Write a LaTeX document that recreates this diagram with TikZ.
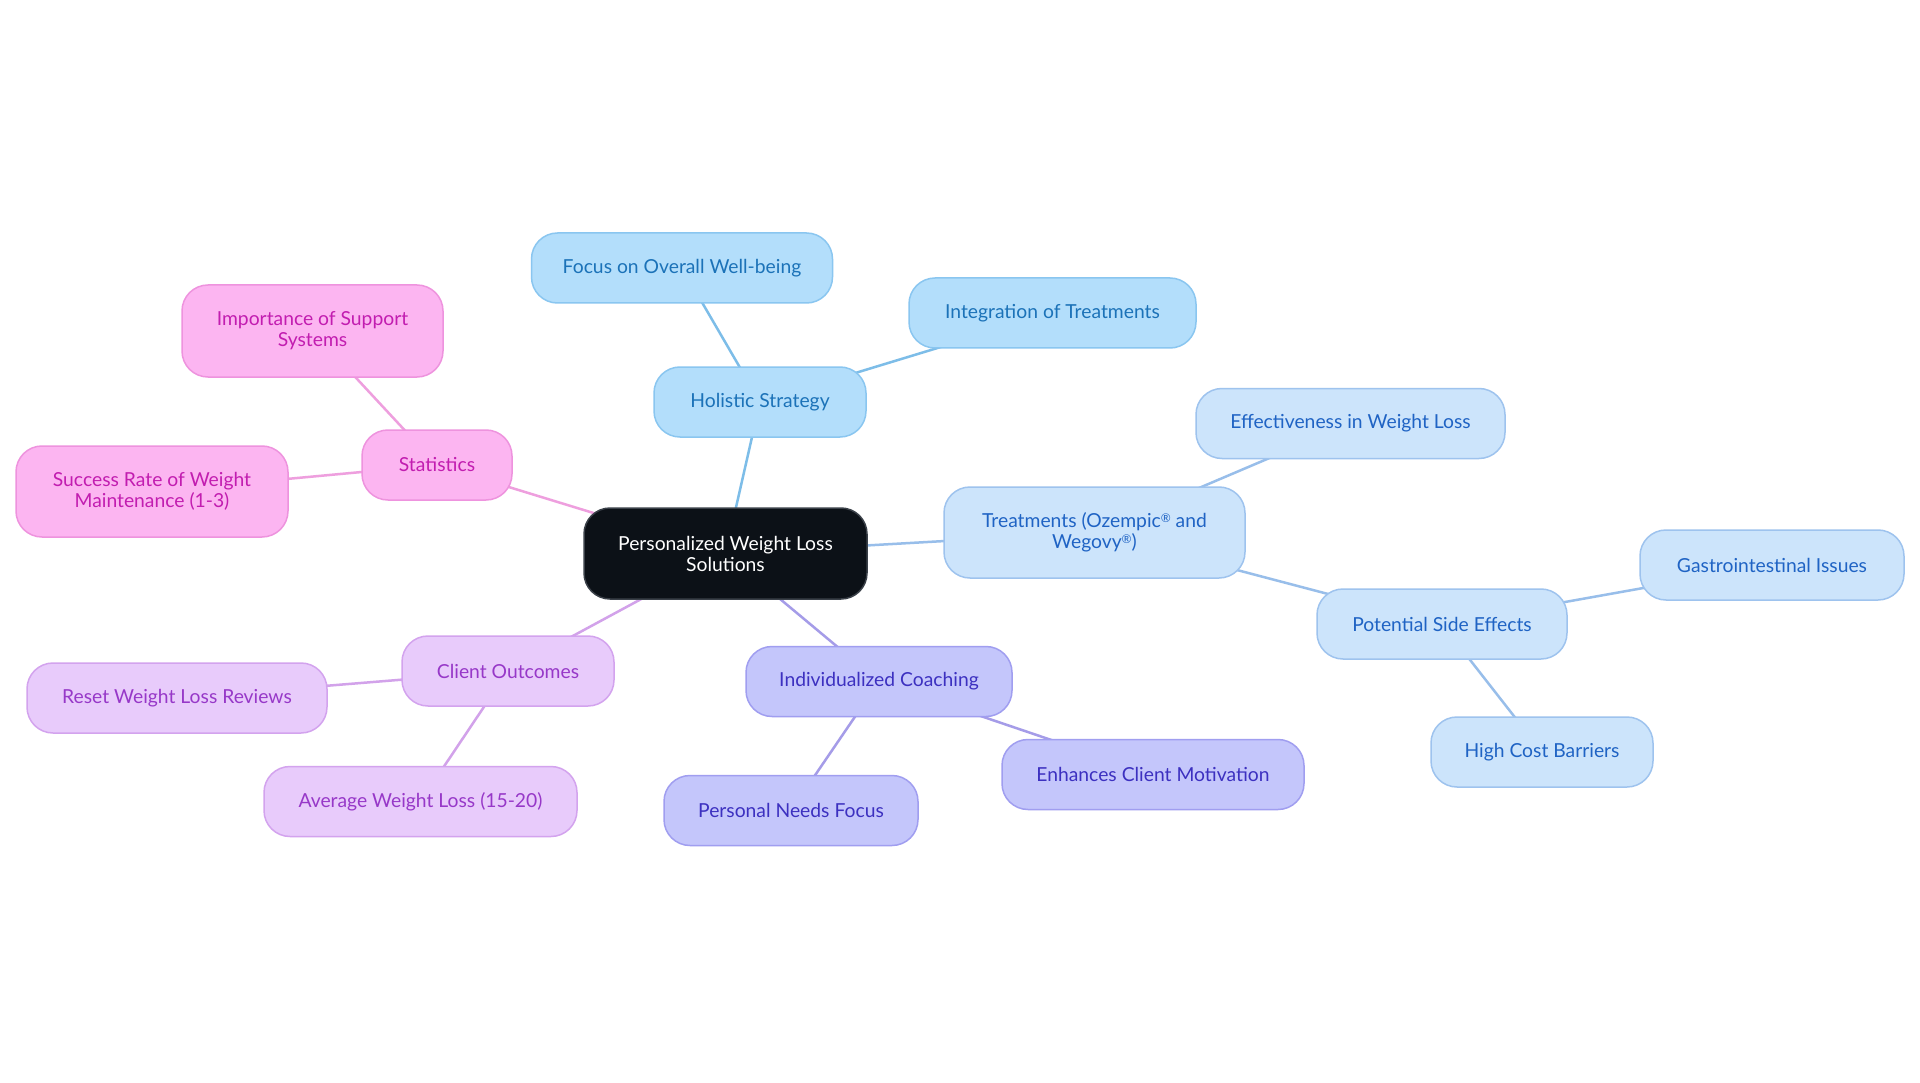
\documentclass[tikz,border=0pt]{standalone}
\usepackage{fontspec}
\setmainfont{Lato}
\usetikzlibrary{backgrounds}
\definecolor{cFill}{HTML}{0C1117}
\definecolor{cBord}{HTML}{3A4048}
\definecolor{bAfill}{HTML}{B3DEFB}
\definecolor{bAbord}{HTML}{8AC6F0}
\definecolor{bAtext}{HTML}{1B72B8}
\definecolor{bAline}{HTML}{7DBDE8}
\definecolor{bBfill}{HTML}{CCE4FB}
\definecolor{bBbord}{HTML}{9EC3EE}
\definecolor{bBtext}{HTML}{1F63C4}
\definecolor{bBline}{HTML}{98BEEA}
\definecolor{inFill}{HTML}{C4C6FB}
\definecolor{inBord}{HTML}{A09EF0}
\definecolor{inText}{HTML}{3C30C0}
\definecolor{inLine}{HTML}{A59CE8}
\definecolor{puFill}{HTML}{E8CBFB}
\definecolor{puBord}{HTML}{D3A3EE}
\definecolor{puText}{HTML}{9738C8}
\definecolor{puLine}{HTML}{D2A2EA}
\definecolor{pkFill}{HTML}{FCB5F1}
\definecolor{pkBord}{HTML}{EE93DE}
\definecolor{pkText}{HTML}{C21DB0}
\definecolor{pkLine}{HTML}{EE9FDE}
\newcommand{\regmark}{{\fontsize{12}{12}\selectfont\raisebox{5pt}{®}}}
\tikzset{
  mmbox/.style={rectangle, rounded corners=26pt, line width=1.5pt, align=center,
    inner sep=0pt, font=\fontsize{19.3}{21}\selectfont, minimum height=70pt},
  rootbox/.style={mmbox, fill=cFill, draw=cBord, text=white},
  blueA/.style={mmbox, fill=bAfill, draw=bAbord, text=bAtext},
  blueB/.style={mmbox, fill=bBfill, draw=bBbord, text=bBtext},
  indig/.style={mmbox, fill=inFill, draw=inBord, text=inText},
  purp/.style={mmbox, fill=puFill, draw=puBord, text=puText},
  pinkb/.style={mmbox, fill=pkFill, draw=pkBord, text=pkText},
  link/.style={line width=2.5pt},
}
\begin{document}
\begin{tikzpicture}[x=1pt,y=-1pt]
\useasboundingbox (0,0) rectangle (1920,1083);
% root
\node[rootbox, minimum width=283pt, minimum height=91pt] (root) at (725.5,553.5) {Personalized Weight Loss\\Solutions};
% holistic branch
\node[blueA, minimum width=212pt] (hol) at (760,402) {Holistic Strategy};
\node[blueA, minimum width=301pt] (foc) at (682,268) {Focus on Overall Well-being};
\node[blueA, minimum width=287pt] (intg) at (1052.5,313) {Integration of Treatments};
% treatments branch
\node[blueB, minimum width=301pt, minimum height=91pt] (trt) at (1094.5,532.5) {Treatments (Ozempic\regmark{} and\\Wegovy\regmark)};
\node[blueB, minimum width=309pt] (eff) at (1350.5,423.5) {Effectiveness in Weight Loss};
\node[blueB, minimum width=250pt] (pse) at (1442,624) {Potential Side Effects};
\node[blueB, minimum width=264pt] (gas) at (1772,565) {Gastrointestinal Issues};
\node[blueB, minimum width=222pt] (hcb) at (1542,752) {High Cost Barriers};
% coaching branch
\node[indig, minimum width=266pt] (coa) at (879,681.5) {Individualized Coaching};
\node[indig, minimum width=302pt] (ecm) at (1153,774.5) {Enhances Client Motivation};
\node[indig, minimum width=254pt] (pnf) at (791,810.5) {Personal Needs Focus};
% outcomes branch
\node[purp, minimum width=212pt] (cou) at (508,671) {Client Outcomes};
\node[purp, minimum width=300pt] (rwl) at (177,698) {Reset Weight Loss Reviews};
\node[purp, minimum width=313pt] (awl) at (420.5,801.5) {Average Weight Loss (15-20)};
% statistics branch
\node[pinkb, minimum width=150pt] (sta) at (437,465) {Statistics};
\node[pinkb, minimum width=261pt, minimum height=92pt] (ims) at (312.5,331) {Importance of Support\\Systems};
\node[pinkb, minimum width=272pt, minimum height=91pt] (srw) at (152,491.5) {Success Rate of Weight\\Maintenance (1-3)};
\begin{scope}[on background layer]
\fill[white] (0,0) rectangle (1920,1083);
\draw[link, bAline] (root.center) -- (hol.center);
\draw[link, bAline] (hol.center) -- (foc.center);
\draw[link, bAline] (hol.center) -- (intg.center);
\draw[link, bBline] (root.center) -- (trt.center);
\draw[link, bBline] (trt.center) -- (eff.center);
\draw[link, bBline] (trt.center) -- (pse.center);
\draw[link, bBline] (pse.center) -- (gas.center);
\draw[link, bBline] (pse.center) -- (hcb.center);
\draw[link, inLine] (root.center) -- (coa.center);
\draw[link, inLine] (coa.center) -- (ecm.center);
\draw[link, inLine] (coa.center) -- (pnf.center);
\draw[link, puLine] (root.center) -- (cou.center);
\draw[link, puLine] (cou.center) -- (rwl.center);
\draw[link, puLine] (cou.center) -- (awl.center);
\draw[link, pkLine] (root.center) -- (sta.center);
\draw[link, pkLine] (sta.center) -- (ims.center);
\draw[link, pkLine] (sta.center) -- (srw.center);
\end{scope}
\end{tikzpicture}
\end{document}
